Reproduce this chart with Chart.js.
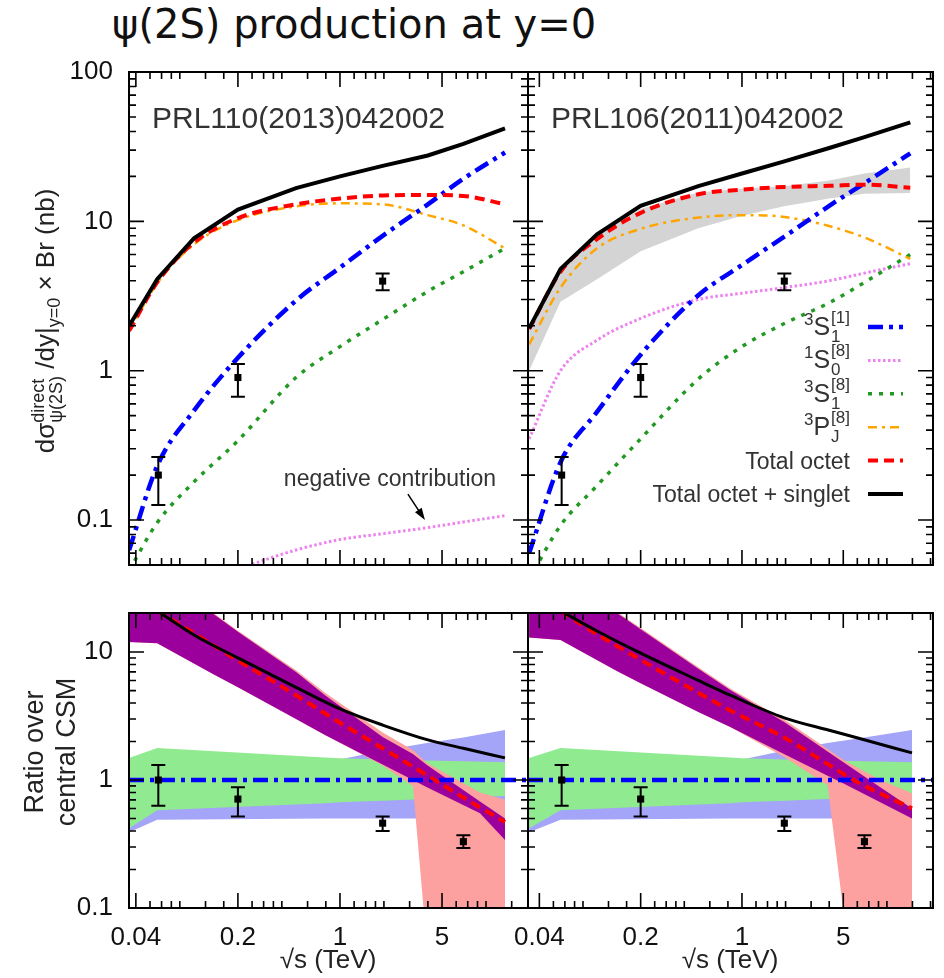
<!DOCTYPE html>
<html>
<head>
<meta charset="utf-8">
<script src="https://cdn.jsdelivr.net/npm/chart.js@4.4.1/dist/chart.umd.min.js"></script>
<style>
  body { margin: 0; background: #fff; width: 944px; height: 978px; position: relative; overflow: hidden;
         font-family: 'Liberation Sans', Arial, sans-serif; color: #222; }
  canvas { position: absolute; }
  #title { position: absolute; left: 112px; top: 1px; font: 40px 'DejaVu Sans', sans-serif; color: #111; white-space: nowrap; }
  .ytitle { position: absolute; transform: rotate(-90deg); white-space: nowrap; text-align: center; }
  .stk { display: inline-block; vertical-align: -8px; font-size: 18px; line-height: 18px; text-align: left; }
  .stk span { display: block; }
  .ytitle sub { font-size: 18px; vertical-align: -6px; line-height: 0; }
  .xtitle { position: absolute; width: 200px; text-align: center; font-size: 26px; white-space: nowrap; }
</style>
</head>
<body>
<div id="title">ψ(2S) production at y=0</div>

<canvas id="tl" width="540" height="515" style="left:0px;top:60px"></canvas>
<canvas id="tr" width="464" height="515" style="left:480px;top:60px"></canvas>
<canvas id="bl" width="540" height="378" style="left:0px;top:600px"></canvas>
<canvas id="br" width="464" height="378" style="left:480px;top:600px"></canvas>

<div class="ytitle" style="left:-120px;top:296px;width:330px;height:50px;line-height:50px;font-size:26px">dσ<span class="stk"><span>direct</span><span>ψ(2S)</span></span> /dy|<sub>y=0</sub> × Br (nb)</div>
<div class="ytitle" style="left:-50px;top:720px;width:200px;height:64px;line-height:32px;font-size:27px">Ratio over<br>central CSM</div>
<div class="xtitle" style="left:228px;top:944px">√s (TeV)</div>
<div class="xtitle" style="left:630px;top:944px">√s (TeV)</div>

<script>
// axis ranges
const xRangeL = [0.0359, 19.4];
const xRangeR = [0.0334, 20.8];
const yRangeTop = [0.05, 100];
const yRangeBot = [0.1, 20.2];

// tick values
const xMajor = [0.04, 0.2, 1, 5];
const xMinorFactors = [1.25, 1.5, 1.75, 2, 3, 4];
const yMajorTop = [0.1, 1, 10, 100];
const yMajorBot = [0.1, 1, 10];

// measured points (same data in both panels)
const dataX = [0.057, 0.2, 1.96];
const dataY = [0.20, 0.90, 3.98];
const dataLo = [0.126, 0.67, 3.45];
const dataHi = [0.264, 1.11, 4.48];
const ratioX = [0.057, 0.2, 1.96, 7];
const ratioY = [1.0, 0.71, 0.46, 0.33];
const ratioLo = [0.63, 0.52, 0.40, 0.295];
const ratioHi = [1.31, 0.88, 0.52, 0.37];

// top left: PRL110(2013)042002
const xTopL = [0.036, 0.056, 0.1, 0.2, 0.5, 1, 1.96, 4, 7, 13.5];
const totalL = [2.0, 4.1, 7.7, 12.0, 16.7, 20, 23.5, 27.6, 33, 42];
const octetL = [1.85, 3.9, 7.2, 10.5, 13.0, 14.2, 14.9, 15.0, 14.8, 13.0];
const pjL = [1.85, 3.85, 7.0, 10.2, 12.6, 13.2, 13.0, 11.0, 9.4, 6.6];
const s1singL = [0.063, 0.23, 0.54, 1.22, 2.95, 4.9, 8.0, 13.0, 19.3, 28.9];
const s1octL = [0.046, 0.096, 0.18, 0.34, 0.9, 1.45, 2.2, 3.4, 4.6, 6.6];
const s0octL = [null, null, null, 0.047, 0.063, 0.074, 0.081, 0.089, 0.097, 0.107];

// top right: PRL106(2011)042002
const xTopR = [0.034, 0.056, 0.1, 0.2, 0.5, 1, 1.96, 4, 7, 14.5];
const totalR = [1.92, 4.8, 8.2, 12.7, 17.2, 20.9, 25.2, 31, 36.6, 46];
const octetR = [1.9, 4.6, 7.6, 11.4, 15.2, 16.3, 17.0, 17.3, 17.6, 16.8];
const octetHiR = [1.95, 4.8, 8.0, 12.1, 15.6, 16.5, 17.2, 18.8, 20.9, 22.9];
const octetLoR = [1.0, 2.9, 4.1, 6.3, 9.0, 10.9, 12.6, 14.2, 15.3, 15.5];
const pjR = [1.5, 3.6, 6.6, 8.9, 10.6, 11.0, 10.7, 9.3, 7.8, 5.6];
const s1singR = [0.06, 0.244, 0.53, 1.28, 3.2, 5.1, 7.9, 12.7, 18, 28.5];
const s0octR = [0.35, 1.0, 1.6, 2.24, 3.0, 3.3, 3.6, 4.0, 4.5, 5.2];
const s1octR = [0.04, 0.092, 0.17, 0.35, 0.88, 1.45, 2.07, 2.85, 3.9, 6.0];

// bottom: ratio over central CSM
const xRatioL = [0.056, 0.1, 0.2, 0.5, 1, 1.96, 4, 7, 13.5];
const ratioTotalL = [21, 13.6, 9.0, 5.3, 3.6, 2.69, 2.06, 1.77, 1.49];
const ratioOctetL = [21, 14, 8.6, 4.6, 2.8, 1.77, 1.08, 0.73, 0.47];
const xRatioR = [0.056, 0.1, 0.2, 0.5, 0.83, 1.98, 4, 6.3, 14.9];
const ratioTotalR = [21, 14.6, 9.8, 6.0, 4.6, 3.05, 2.45, 2.13, 1.63];
const ratioOctetR = [21, 13.8, 8.7, 4.8, 3.5, 2.13, 1.31, 0.96, 0.6];

const bandXL = [0.036, 0.056, 0.133, 0.2, 0.5, 0.79, 1.96, 3.16, 3.94, 9.1, 13.5];
const purpleHiL = [45, 40, 20.2, 14.4, 7.0, 4.6, 2.17, 1.6, 1.31, 0.68, 0.5];
const purpleLoL = [12.0, 11.7, 6.8, 5.3, 3.0, 2.25, 1.32, 1.0, 0.88, 0.55, 0.34];
const pinkHiL = [46, 41, 20.6, 14.7, 7.2, 4.8, 2.35, 1.72, 1.36, 0.8, 0.7];
const pinkLoL = [12.0, 11.7, 6.8, 5.3, 3.0, 2.25, 1.3, 0.9, 0.05, 0.05, 0.05];

const bandXR = [0.034, 0.056, 0.137, 0.2, 0.5, 0.83, 1.98, 3.9, 5.1, 9, 14.9];
const purpleHiR = [45, 40, 20.2, 15.1, 7.4, 5.05, 2.82, 1.67, 1.36, 0.88, 0.6];
const purpleLoR = [13, 12.4, 7.1, 5.7, 3.4, 2.6, 1.58, 1.08, 0.93, 0.67, 0.5];
const pinkHiR = [46, 41, 20.6, 15.4, 7.6, 5.2, 2.95, 1.75, 1.42, 1.0, 0.79];
const pinkLoR = [13, 12.4, 7.1, 5.7, 3.4, 2.6, 1.5, 0.91, 0.08, 0.05, 0.05];

const csmXL = [0.036, 0.056, 0.79, 1.0, 1.96, 3.94, 7, 13.5];
const csmXR = [0.034, 0.056, 0.83, 1.0, 1.98, 3.9, 7, 14.9];
const csmHi = [1.2, 1.43, 1.43, 1.45, 1.7, 1.95, 2.15, 2.46];
const csmLo = [0.39, 0.49, 0.5, 0.5, 0.5, 0.5, 0.5, 0.5];
const csm2Hi = [1.49, 1.78, 1.5, 1.48, 1.45, 1.42, 1.4, 1.38];
const csm2Lo = [0.42, 0.58, 0.66, 0.67, 0.69, 0.71, 0.73, 0.75];

// legend text (top right panel)
const legendItems = [
  { key: 's1sing', pre: '3', base: 'S', sub: '1', sup: '[1]' },
  { key: 's0oct', pre: '1', base: 'S', sub: '0', sup: '[8]' },
  { key: 's1oct', pre: '3', base: 'S', sub: '1', sup: '[8]' },
  { key: 'pj', pre: '3', base: 'P', sub: 'J', sup: '[8]' },
  { key: 'octet', text: 'Total octet' },
  { key: 'total', text: 'Total octet + singlet' }
];

const FONT = "'Liberation Sans', Arial, sans-serif";

const styles = {
  total:  { borderColor: '#000000', borderWidth: 4, borderDash: [] },
  octet:  { borderColor: '#ff0000', borderWidth: 4, borderDash: [10, 6] },
  pj:     { borderColor: '#ffa500', borderWidth: 2.5, borderDash: [9, 5, 3, 5] },
  s1sing: { borderColor: '#0000ff', borderWidth: 4.5, borderDash: [15, 6, 4, 6] },
  s1oct:  { borderColor: '#229922', borderWidth: 3.5, borderDash: [4, 7] },
  s0oct:  { borderColor: '#ee82ee', borderWidth: 3, borderDash: [2.5, 2.5] }
};

function pts(xs, ys) {
  return xs.map((x, i) => ({ x: x, y: ys[i] }));
}

function curve(key, xs, ys, order, smooth) {
  return Object.assign({ key: key, data: pts(xs, ys), pointRadius: 0, fill: false,
    tension: 0, order: order, borderCapStyle: 'butt', spanGaps: false,
    cubicInterpolationMode: smooth === false ? 'default' : 'monotone' }, styles[key]);
}

function band(xs, hi, lo, color, order) {
  return [
    { data: pts(xs, hi), borderColor: 'rgba(0,0,0,0)', borderWidth: 1, pointRadius: 0,
      backgroundColor: color, fill: '+1', order: order, tension: 0 },
    { data: pts(xs, lo), borderColor: 'rgba(0,0,0,0)', borderWidth: 1, pointRadius: 0,
      fill: false, order: order, tension: 0 }
  ];
}

function dataPoints(xs, ys, lo, hi) {
  return { data: pts(xs, ys), errLo: lo, errHi: hi, showLine: false, pointStyle: 'rect',
    pointRadius: 5, backgroundColor: '#000', borderColor: '#000', borderWidth: 0, order: 0 };
}

function minorTicks(majors, factors) {
  const out = [];
  majors.forEach(m => factors.forEach(f => out.push(m * f)));
  return out;
}
const xMinor = minorTicks([0.008].concat(xMajor), xMinorFactors);
const yMinorTop = minorTicks([0.01, 0.1, 1, 10], [2, 3, 4, 5, 6, 7, 8, 9]);
const yMinorBot = minorTicks([0.1, 1, 10], [2, 3, 4, 5, 6, 7, 8, 9]);

// inward ticks on all four sides plus the frame
function frameTicks(yMajor, yMinor) {
  return {
    id: 'frameTicks',
    afterDatasetsDraw(chart) {
      const { ctx, chartArea: a, scales: { x, y } } = chart;
      ctx.save();
      ctx.strokeStyle = '#000';
      ctx.lineWidth = 1.6;
      ctx.beginPath();
      const vx = (v, len) => {
        const p = x.getPixelForValue(v);
        if (p < a.left + 1 || p > a.right - 1) return;
        ctx.moveTo(p, a.bottom); ctx.lineTo(p, a.bottom - len);
        ctx.moveTo(p, a.top); ctx.lineTo(p, a.top + len);
      };
      const vy = (v, len) => {
        const p = y.getPixelForValue(v);
        if (p < a.top + 1 || p > a.bottom - 1) return;
        ctx.moveTo(a.left, p); ctx.lineTo(a.left + len, p);
        ctx.moveTo(a.right, p); ctx.lineTo(a.right - len, p);
      };
      xMajor.forEach(v => vx(v, 15));
      xMinor.forEach(v => vx(v, 7));
      yMajor.forEach(v => vy(v, 15));
      yMinor.forEach(v => vy(v, 7));
      ctx.stroke();
      ctx.lineWidth = 2;
      ctx.strokeRect(a.left, a.top, a.width, a.height);
      ctx.restore();
    }
  };
}

const errorBars = {
  id: 'errorBars',
  afterDatasetsDraw(chart) {
    const { ctx, scales: { x, y } } = chart;
    ctx.save();
    ctx.strokeStyle = '#000';
    ctx.lineWidth = 2;
    chart.data.datasets.forEach(ds => {
      if (!ds.errLo) return;
      ds.data.forEach((p, i) => {
        const px = x.getPixelForValue(p.x);
        const y1 = y.getPixelForValue(ds.errLo[i]);
        const y2 = y.getPixelForValue(ds.errHi[i]);
        ctx.beginPath();
        ctx.moveTo(px, y1); ctx.lineTo(px, y2);
        ctx.moveTo(px - 7, y1); ctx.lineTo(px + 7, y1);
        ctx.moveTo(px - 7, y2); ctx.lineTo(px + 7, y2);
        ctx.stroke();
      });
    });
    ctx.restore();
  }
};

function panelLabel(text) {
  return {
    id: 'panelLabel',
    afterDraw(chart) {
      const { ctx, chartArea: a } = chart;
      ctx.save();
      ctx.font = '30px ' + FONT;
      ctx.fillStyle = '#333';
      ctx.textBaseline = 'alphabetic';
      ctx.fillText(text, a.left + 23, a.top + 56);
      ctx.restore();
    }
  };
}

const negNote = { text: 'negative contribution', x: 2.2, y: 0.185, from: [2.92, 0.149], to: [3.82, 0.1] };
const noteLabel = {
  id: 'noteLabel',
  afterDraw(chart) {
    const { ctx, scales: { x, y } } = chart;
    ctx.save();
    ctx.font = '23px ' + FONT;
    ctx.fillStyle = '#333';
    ctx.textAlign = 'center';
    ctx.textBaseline = 'middle';
    ctx.fillText(negNote.text, x.getPixelForValue(negNote.x), y.getPixelForValue(negNote.y));
    const x1 = x.getPixelForValue(negNote.from[0]), y1 = y.getPixelForValue(negNote.from[1]);
    const x2 = x.getPixelForValue(negNote.to[0]), y2 = y.getPixelForValue(negNote.to[1]);
    const ang = Math.atan2(y2 - y1, x2 - x1);
    ctx.strokeStyle = '#000';
    ctx.fillStyle = '#000';
    ctx.lineWidth = 1.5;
    ctx.beginPath(); ctx.moveTo(x1, y1); ctx.lineTo(x2 - 8 * Math.cos(ang), y2 - 8 * Math.sin(ang)); ctx.stroke();
    ctx.beginPath();
    ctx.moveTo(x2, y2);
    ctx.lineTo(x2 - 12 * Math.cos(ang) + 4 * Math.sin(ang), y2 - 12 * Math.sin(ang) - 4 * Math.cos(ang));
    ctx.lineTo(x2 - 12 * Math.cos(ang) - 4 * Math.sin(ang), y2 - 12 * Math.sin(ang) + 4 * Math.cos(ang));
    ctx.closePath(); ctx.fill();
    ctx.restore();
  }
};

const legendBox = {
  id: 'legendBox',
  afterDraw(chart) {
    const { ctx, chartArea: a } = chart;
    const right = a.right - 83;
    ctx.save();
    ctx.fillStyle = '#333';
    ctx.textBaseline = 'alphabetic';
    legendItems.forEach((it, i) => {
      const yc = a.top + 255 + i * 33.4;
      const base = yc + 8;
      if (it.text) {
        ctx.font = '23px ' + FONT;
        ctx.textAlign = 'right';
        ctx.fillText(it.text, right, base);
      } else {
        ctx.font = '17px ' + FONT;
        const w = Math.max(ctx.measureText(it.sub).width, ctx.measureText(it.sup).width);
        ctx.textAlign = 'left';
        ctx.fillText(it.sup, right - w, base - 12);
        ctx.fillText(it.sub, right - w, base + 7);
        ctx.font = '25px ' + FONT;
        ctx.textAlign = 'right';
        ctx.fillText(it.base, right - w - 1, base);
        const bw = ctx.measureText(it.base).width;
        ctx.font = '17px ' + FONT;
        ctx.fillText(it.pre, right - w - bw - 1, base - 10);
      }
      const ds = chart.data.datasets.find(d => d.key === it.key);
      ctx.save();
      ctx.strokeStyle = ds.borderColor;
      ctx.lineWidth = ds.borderWidth;
      ctx.setLineDash(ds.borderDash);
      ctx.beginPath();
      ctx.moveTo(a.right - 65, yc);
      ctx.lineTo(a.right - 30, yc);
      ctx.stroke();
      ctx.restore();
    });
    ctx.restore();
  }
};

function noPad(s) {
  s.paddingTop = 0; s.paddingBottom = 0; s.paddingLeft = 0; s.paddingRight = 0;
}

function makeChart(id, p) {
  return new Chart(document.getElementById(id), {
    type: 'line',
    data: { datasets: p.datasets },
    options: {
      responsive: false,
      animation: false,
      devicePixelRatio: 1,
      layout: { autoPadding: false, padding: { top: p.padTop, right: p.padRight, left: 0, bottom: 0 } },
      plugins: { legend: { display: false }, tooltip: { enabled: false } },
      scales: {
        x: {
          type: 'logarithmic', min: p.xRange[0], max: p.xRange[1],
          grid: { display: false, drawTicks: false, tickLength: 0 },
          border: { display: false },
          afterBuildTicks: s => { s.ticks = xMajor.map(v => ({ value: v })); },
          ticks: { display: p.xLabels, autoSkip: false, maxRotation: 0, padding: 14,
                   font: { size: 26, family: FONT }, color: '#111', callback: v => String(v) },
          afterFit: s => { s.height = p.bottom; noPad(s); }
        },
        y: {
          type: 'logarithmic', min: p.yRange[0], max: p.yRange[1],
          grid: { display: false, drawTicks: false, tickLength: 0 },
          border: { display: false },
          afterBuildTicks: s => { s.ticks = p.yMajor.map(v => ({ value: v })); },
          ticks: { display: p.yLabels, autoSkip: false, padding: 16,
                   font: { size: 26, family: FONT }, color: '#111', callback: v => String(v) },
          afterFit: s => { s.width = p.left; noPad(s); }
        }
      }
    },
    plugins: [frameTicks(p.yMajor, p.yMinor), errorBars].concat(p.extra || [])
  });
}

// top left
makeChart('tl', {
  xRange: xRangeL, yRange: yRangeTop, yMajor: yMajorTop, yMinor: yMinorTop,
  padTop: 12, padRight: 12, left: 129, bottom: 10, xLabels: false, yLabels: true,
  datasets: [
    curve('s0oct', xTopL, s0octL, 6),
    curve('s1oct', xTopL, s1octL, 5),
    curve('pj', xTopL, pjL, 4),
    curve('s1sing', xTopL, s1singL, 3),
    curve('octet', xTopL, octetL, 2),
    curve('total', xTopL, totalL, 1, false),
    dataPoints(dataX, dataY, dataLo, dataHi)
  ],
  extra: [panelLabel('PRL110(2013)042002'), noteLabel]
});

// top right
makeChart('tr', {
  xRange: xRangeR, yRange: yRangeTop, yMajor: yMajorTop, yMinor: yMinorTop,
  padTop: 12, padRight: 11, left: 48, bottom: 10, xLabels: false, yLabels: false,
  datasets: band(xTopR, octetHiR, octetLoR, '#d4d4d4', 9).concat([
    curve('s0oct', xTopR, s0octR, 6),
    curve('s1oct', xTopR, s1octR, 5),
    curve('pj', xTopR, pjR, 4),
    curve('s1sing', xTopR, s1singR, 3),
    curve('octet', xTopR, octetR, 2),
    curve('total', xTopR, totalR, 1, false),
    dataPoints(dataX, dataY, dataLo, dataHi)
  ]),
  extra: [panelLabel('PRL106(2011)042002'), legendBox]
});

function ratioDatasets(csmX, bandX, pHi, pLo, kHi, kLo, xr, tot, oct, xRange) {
  return [].concat(
    band(csmX, csmHi, csmLo, '#a4a4f8', 12),
    band(csmX, csm2Hi, csm2Lo, '#90ea90', 11),
    band(bandX, kHi, kLo, '#fca0a0', 10),
    band(bandX, pHi, pLo, '#9c009c', 9),
    [
      Object.assign({ data: pts(xRange, [1, 1]), pointRadius: 0, fill: false, order: 4 },
        styles.s1sing),
      curve('octet', xr, oct, 3),
      Object.assign(curve('total', xr, tot, 2), { borderWidth: 3 }),
      dataPoints(ratioX, ratioY, ratioLo, ratioHi)
    ]
  );
}

// bottom left
makeChart('bl', {
  xRange: xRangeL, yRange: yRangeBot, yMajor: yMajorBot, yMinor: yMinorBot,
  padTop: 13, padRight: 12, left: 129, bottom: 70, xLabels: true, yLabels: true,
  datasets: ratioDatasets(csmXL, bandXL, purpleHiL, purpleLoL, pinkHiL, pinkLoL,
    xRatioL, ratioTotalL, ratioOctetL, xRangeL)
});

// bottom right
makeChart('br', {
  xRange: xRangeR, yRange: yRangeBot, yMajor: yMajorBot, yMinor: yMinorBot,
  padTop: 13, padRight: 11, left: 48, bottom: 70, xLabels: true, yLabels: false,
  datasets: ratioDatasets(csmXR, bandXR, purpleHiR, purpleLoR, pinkHiR, pinkLoR,
    xRatioR, ratioTotalR, ratioOctetR, xRangeR)
});
</script>
</body>
</html>
